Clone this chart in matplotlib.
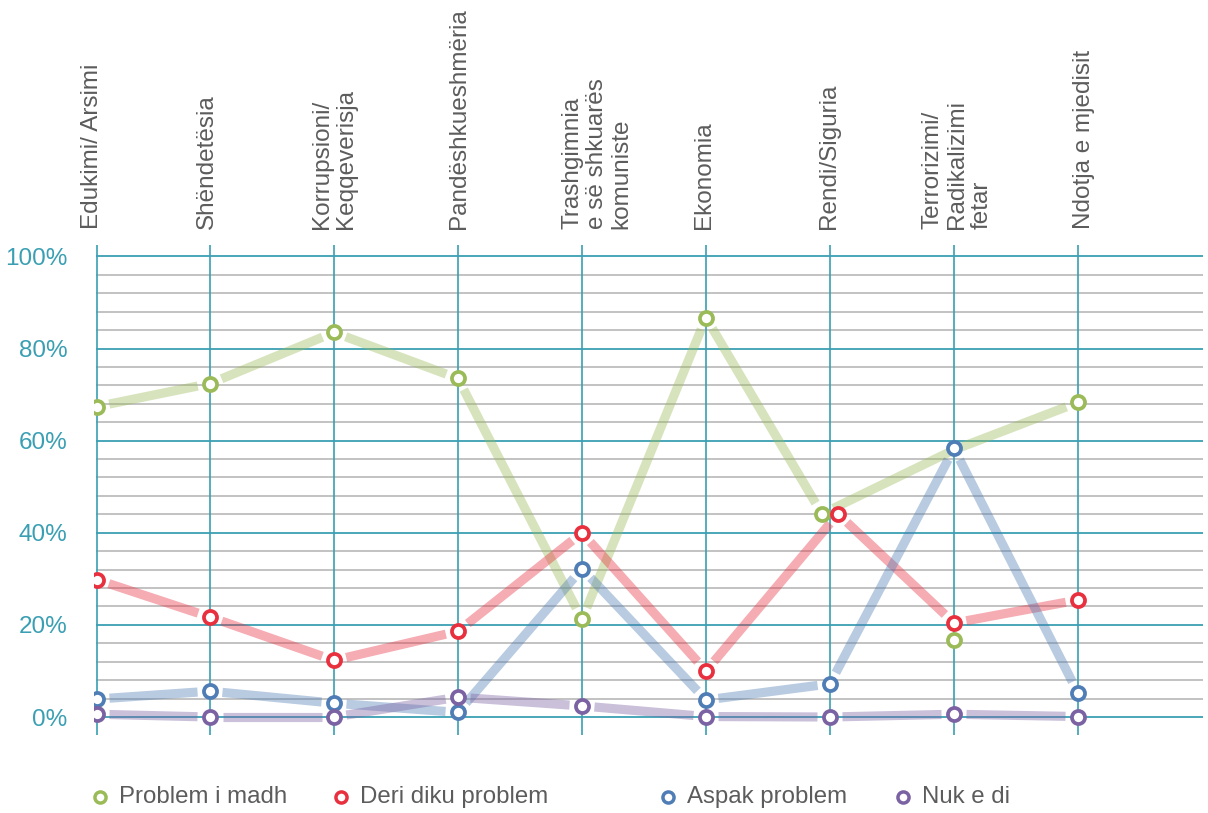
import numpy as np
import matplotlib
matplotlib.use("Agg")
import matplotlib.pyplot as plt
from matplotlib.lines import Line2D

plt.rcParams['font.family'] = ['Liberation Sans', 'DejaVu Sans']

# ---------------- data ----------------
categories = [
    "Edukimi/ Arsimi",
    "Shëndetësia",
    "Korrupsioni/\nKeqqeverisja",
    "Pandëshkueshmëria",
    "Trashgimnia\ne së shkuarës\nkomuniste",
    "Ekonomia",
    "Rendi/Siguria",
    "Terrorizimi/\nRadikalizimi\nfetar",
    "Ndotja e mjedisit",
]
series_names = ["Problem i madh", "Deri diku problem", "Aspak problem", "Nuk e di"]

# marker values (%)
problem_madh = [67.4, 72.4, 83.5, 73.5, 21.2, 86.7, 44.1, 16.7, 68.3]
deri_diku = [29.8, 21.7, 12.3, 18.6, 40.0, 10.0, 44.1, 20.4, 25.4]
aspak = [3.9, 5.6, 3.0, 1.0, 32.2, 3.7, 7.2, 58.3, 5.2]
nuk_e_di = [0.6, 0.0, 0.0, 4.3, 2.4, 0.1, 0.0, 0.6, 0.1]
# line values as drawn in the original (the green line passes 58% at Terrorizimi)
problem_madh_line = [67.4, 72.4, 83.5, 73.5, 21.2, 86.7, 44.1, 58.0, 68.3]

yticks = [0, 20, 40, 60, 80, 100]
ytick_labels = ["0%", "20%", "40%", "60%", "80%", "100%"]

# ---------------- style ----------------
W, H = 1208, 813
DPI = 100
teal = "#3a9fb3"
minor_col = "#bdbdbd"
text_col = "#5c5c5c"
colors = ["#9bbb59", "#e8303f", "#4f7db5", "#7b62a3"]

fig = plt.figure(figsize=(W / DPI, H / DPI), dpi=DPI)
ax_left, ax_right = 97, 1203
ax_top, ax_bot = 245, 735
pad_px = 3
ax = fig.add_axes([(ax_left - pad_px) / W, 1 - ax_bot / H,
                   (ax_right - ax_left + pad_px) / W, (ax_bot - ax_top) / H])

px_per_unit = 124.0
xpos = np.array([0.0] + [113.0 / px_per_unit + k for k in range(8)])
ax.set_xlim(-pad_px / px_per_unit, (ax_right - ax_left) / px_per_unit)
px_per_pct = 4.606
y0 = 717
ax.set_ylim(-(ax_bot - y0) / px_per_pct, (y0 - ax_top) / px_per_pct)

for s in ax.spines.values():
    s.set_visible(False)

ax.set_xticks(xpos)
ax.set_xticklabels([])
ax.tick_params(axis='x', length=0)
ax.set_yticks(yticks)
ax.set_yticklabels(ytick_labels, color=teal, fontsize=17.5)
ax.tick_params(axis='y', which='both', length=0, pad=19)
ax.grid(axis='x', which='major', color=teal, lw=1.2, zorder=0.5)
ax.set_axisbelow(True)

# horizontal grid lines start at the first category line
for v in range(0, 101, 4):
    major = v % 20 == 0
    ax.plot([xpos[0], ax.get_xlim()[1]], [v, v], color=teal if major else minor_col,
            lw=1.3, zorder=0.6 if major else 0.4)

# marker x offsets in pixels (to separate coincident markers at Rendi/Siguria)
offsets = {0: {6: -8}, 1: {6: 8}}

marker_vals = [problem_madh, deri_diku, aspak, nuk_e_di]
line_vals = [problem_madh_line, deri_diku, aspak, nuk_e_di]

fig.canvas.draw()
tr = ax.transData
inv = tr.inverted()
gap = 12.5

for si in range(4):
    mv = np.array(marker_vals[si], float)
    lv = np.array(line_vals[si], float)
    off = offsets.get(si, {})
    mdisp = tr.transform(np.column_stack([xpos, mv]))
    ldisp = tr.transform(np.column_stack([xpos, lv]))
    for i, dx in off.items():
        mdisp[i, 0] += dx
        ldisp[i, 0] += dx
    for i in range(len(xpos) - 1):
        p0 = ldisp[i].copy()
        p1 = ldisp[i + 1].copy()
        d = p1 - p0
        L = np.hypot(*d)
        u = d / L
        a = p0 + u * (gap if abs(lv[i] - mv[i]) < 1e-9 else 0)
        b = p1 - u * (gap if abs(lv[i + 1] - mv[i + 1]) < 1e-9 else 0)
        seg = inv.transform(np.vstack([a, b]))
        ax.plot(seg[:, 0], seg[:, 1], color=colors[si], alpha=0.4, lw=6.6,
                solid_capstyle='butt', zorder=2 + si * 0.1)
    mdata = inv.transform(mdisp)
    ax.plot(mdata[:, 0], mdata[:, 1], ls='none', marker='o', ms=9.4, mew=2.7,
            mec=colors[si], mfc='white', zorder=5 + si * 0.1)

# category labels
label_dx = [-5, -3, 0, 1, 15, -2, -1, 3, 6]
for i, (x, lab) in enumerate(zip(xpos, categories)):
    xd = tr.transform((x, 0))[0] + label_dx[i]
    fig.text(xd / W, 1 - 229 / H, lab, rotation=90, ha='center', va='bottom',
             multialignment='left', fontsize=17.5, color=text_col, linespacing=1.15)

# legend
leg_y = 1 - 797 / H
mark_x = [100, 341, 668, 903]
for name, c, mx in zip(series_names, colors, mark_x):
    fig.add_artist(Line2D([mx / W], [leg_y], transform=fig.transFigure, ls='none',
                          marker='o', ms=8, mew=2.5, mec=c, mfc='white'))
    fig.text((mx + 19) / W, leg_y, name, ha='left', va='center', fontsize=17.3,
             color=text_col)

fig.savefig("out.png", dpi=DPI)
